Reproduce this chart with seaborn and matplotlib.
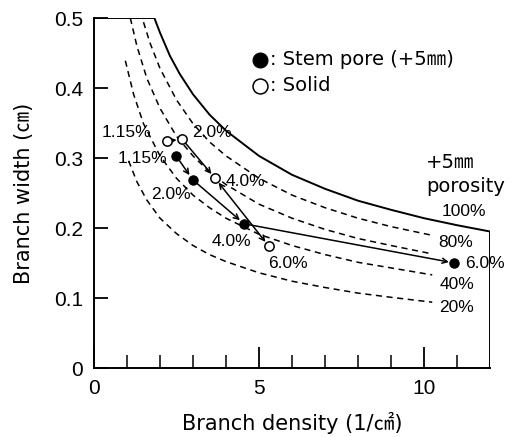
import matplotlib
matplotlib.use("Agg")
import matplotlib.pyplot as plt
import seaborn as sns
import pandas as pd

# ---- data ----
# porosity curves (+5mm porosity), branch density (1/cm2) vs branch width (cm)
d100 = [0, 1.83, 2.0, 2.3, 2.6, 3.0, 3.5, 4.0, 5.0, 6.0, 7.0, 8.0, 9.0, 10.0, 11.0, 12.0, 12.0]
w100 = [0.5, 0.5, 0.479, 0.446, 0.420, 0.391, 0.362, 0.339, 0.303, 0.276, 0.256, 0.239, 0.226, 0.214, 0.204, 0.195, 0.0]
d80 = [1.5, 1.7, 2.0, 2.5, 3.0, 3.5, 4.0, 5.0, 6.0, 7.0, 8.0, 9.0, 10.3]
w80 = [0.494, 0.464, 0.428, 0.383, 0.349, 0.323, 0.303, 0.271, 0.247, 0.229, 0.214, 0.202, 0.189]
d60 = [1.1, 1.3, 1.6, 2.0, 2.5, 3.0, 3.5, 4.0, 5.0, 6.0, 7.0, 8.0, 9.0, 10.25]
w60 = [0.500, 0.460, 0.414, 0.371, 0.331, 0.303, 0.280, 0.262, 0.234, 0.214, 0.198, 0.185, 0.175, 0.163]
d40 = [0.95, 1.2, 1.5, 2.0, 2.5, 3.0, 3.5, 4.0, 5.0, 6.0, 7.0, 8.0, 9.0, 10.25]
w40 = [0.439, 0.391, 0.349, 0.303, 0.271, 0.247, 0.229, 0.214, 0.191, 0.175, 0.162, 0.151, 0.143, 0.133]
d20 = [1.05, 1.3, 1.6, 2.0, 2.5, 3.0, 3.5, 4.0, 5.0, 6.0, 7.0, 8.0, 9.0, 10.25]
w20 = [0.296, 0.266, 0.240, 0.214, 0.192, 0.175, 0.162, 0.152, 0.136, 0.124, 0.115, 0.107, 0.101, 0.094]
curve_labels = ["100%", "80%", "40%", "20%"]

# measured points
stem_d = [2.49, 2.99, 4.55, 10.92]
stem_w = [0.303, 0.269, 0.206, 0.150]
solid_d = [2.21, 2.67, 3.67, 5.30]
solid_w = [0.324, 0.327, 0.271, 0.174]
point_labels = ["1.15%", "2.0%", "4.0%", "6.0%"]

xticks_major = [0, 5, 10]
xticks_minor = [1, 2, 3, 4, 6, 7, 8, 9, 11]
yticks = [0, 0.1, 0.2, 0.3, 0.4, 0.5]
ytick_labels = ["0", "0.1", "0.2", "0.3", "0.4", "0.5"]

# ---- layout (label positions in data coords) ----
stem_label_pos = [(1.48, 0.299), (2.33, 0.248), (4.17, 0.180), (11.25, 0.150)]
stem_label_ha = ["center", "center", "center", "left"]
solid_label_pos = [(0.97, 0.337), (3.56, 0.337), (4.59, 0.267), (5.89, 0.149)]
curve_label_pos = [(11.21, 0.224), (10.97, 0.179), (11.0, 0.119), (11.0, 0.087)]

sns.set_theme(style="ticks")
plt.rcParams["font.family"] = ["DejaVu Sans", "Noto Sans CJK JP"]
plt.rcParams.update({"text.color": "black", "axes.labelcolor": "black",
                     "xtick.color": "black", "ytick.color": "black",
                     "axes.edgecolor": "black"})
NARROW = ["Liberation Sans Narrow", "Liberation Sans", "DejaVu Sans"]

fig = plt.figure(figsize=(5.19, 4.37), dpi=100)
ax = fig.add_axes([94 / 519, 1 - 368 / 437, 396 / 519, 350 / 437])

# curves
sns.lineplot(x=d100, y=w100, ax=ax, color="black", lw=1.4, sort=False, estimator=None)
dash = (0, (4, 3))
for dd, ww in [(d80, w80), (d60, w60), (d40, w40), (d20, w20)]:
    sns.lineplot(x=dd, y=ww, ax=ax, color="black", lw=1.1, sort=False,
                 estimator=None, linestyle=dash)

# arrows between points
for i in range(len(stem_d) - 1):
    ax.annotate("", xy=(stem_d[i + 1], stem_w[i + 1]), xytext=(stem_d[i], stem_w[i]),
                arrowprops=dict(arrowstyle="->", color="black", lw=1.1,
                                shrinkA=4, shrinkB=4, mutation_scale=9))
for i in range(len(solid_d) - 1):
    style = "<->" if i == len(solid_d) - 2 else "->"
    ax.annotate("", xy=(solid_d[i + 1], solid_w[i + 1]), xytext=(solid_d[i], solid_w[i]),
                arrowprops=dict(arrowstyle=style, color="black", lw=1.1,
                                shrinkA=4, shrinkB=4, mutation_scale=9))

# points
df_stem = pd.DataFrame({"d": stem_d, "w": stem_w})
df_solid = pd.DataFrame({"d": solid_d, "w": solid_w})
sns.scatterplot(data=df_stem, x="d", y="w", ax=ax, color="black", s=45,
                edgecolor="black", linewidth=0.8, zorder=5, label=": Stem pore (+5㎜)")
sns.scatterplot(data=df_solid, x="d", y="w", ax=ax, color="white", s=45,
                edgecolor="black", linewidth=1.1, zorder=5, label=": Solid")

# point labels
for (x, y), t, ha in zip(stem_label_pos, point_labels, stem_label_ha):
    ax.text(x, y, t, ha=ha, va="center", fontsize=12.5, family=NARROW)
for (x, y), t in zip(solid_label_pos, point_labels):
    ax.text(x, y, t, ha="center", va="center", fontsize=12.5, family=NARROW)
for (x, y), t in zip(curve_label_pos, curve_labels):
    ax.text(x, y, t, ha="center", va="center", fontsize=12.5, family=NARROW)

ax.text(10.06, 0.293, "+5㎜", ha="left", va="center", fontsize=14,
        family=["DejaVu Sans", "Noto Sans CJK JP"])
ax.text(10.06, 0.259, "porosity", ha="left", va="center", fontsize=14)

leg = ax.legend(loc="upper left", bbox_to_anchor=(0.375, 0.93), frameon=False,
                handletextpad=0.0, handlelength=1.0, labelspacing=0.35,
                fontsize=14, markerscale=1.6, borderaxespad=0)
for t in leg.get_texts():
    t.set_color("black")

# axes
ax.set_xlim(0, 12)
ax.set_ylim(0, 0.5)
ax.set_xticks(xticks_major)
ax.set_xticks(xticks_minor, minor=True)
ax.set_yticks(yticks)
ax.set_yticklabels(ytick_labels)
ax.tick_params(axis="both", which="major", direction="in", length=10, width=1.3,
               labelsize=15, pad=8, colors="black")
ax.tick_params(axis="x", which="major", length=15)
ax.tick_params(axis="x", which="minor", direction="in", length=9.5, width=1.1,
               colors="black")
for lab in ax.get_xticklabels() + ax.get_yticklabels():
    lab.set_family(NARROW)
for s in ["top", "right"]:
    ax.spines[s].set_visible(False)
for s in ["left", "bottom"]:
    ax.spines[s].set_linewidth(1.4)
    ax.spines[s].set_color("black")

ax.set_xlabel("Branch density (1/㎠)", fontsize=15, labelpad=10)
ax.set_ylabel("Branch width (㎝)", fontsize=15, labelpad=14)
ax.set_facecolor("white")
fig.patch.set_facecolor("white")

fig.savefig("out.png", dpi=100)
